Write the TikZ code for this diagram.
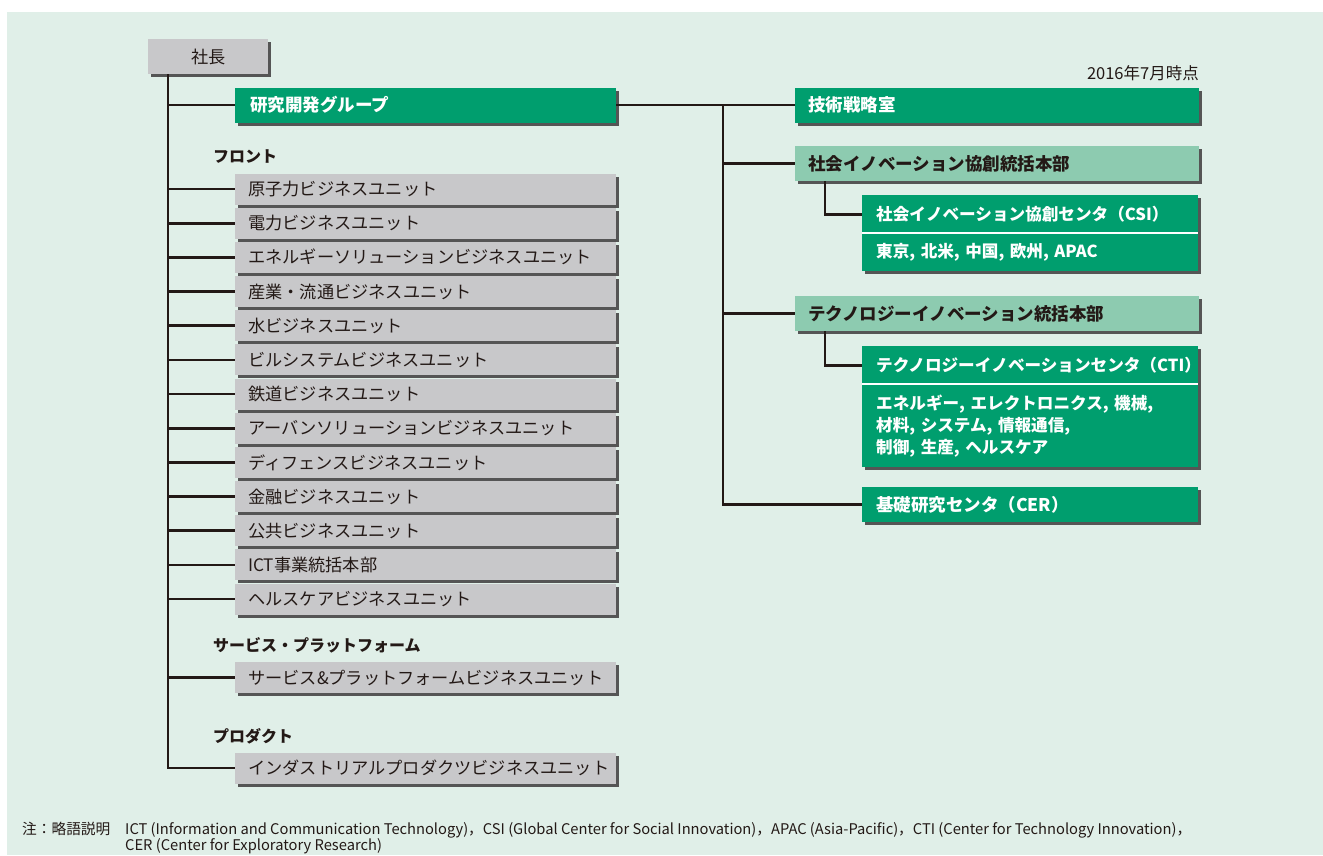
\documentclass[tikz,border=0pt]{standalone}
\usepackage{fontspec}
\setmainfont{Noto Sans CJK JP}
\usetikzlibrary{shadows}
\definecolor{bg}{RGB}{224,239,232}
\definecolor{dgreen}{RGB}{0,158,110}
\definecolor{lgreen}{RGB}{141,203,176}
\definecolor{ugrey}{RGB}{200,200,202}
\definecolor{ink}{RGB}{35,25,22}
\definecolor{shadowgrey}{RGB}{85,85,85}
\begin{document}
\begin{tikzpicture}[x=1pt,y=-1pt,
  shd/.style={drop shadow={shadow xshift=3pt,shadow yshift=-3pt,fill=shadowgrey,opacity=1}},
  unitbox/.style={fill=ugrey,shd,anchor=west,minimum height=31pt,text width=355pt,inner xsep=13pt,inner ysep=0pt,align=left,font=\fontsize{17.2}{20}\selectfont,text=ink},
  gbox/.style={fill=dgreen,shd,anchor=west,minimum height=35pt,inner ysep=0pt,align=left,font=\fontsize{17.5}{21}\selectfont\bfseries,text=white},
  lbox/.style={gbox,fill=lgreen,text=ink},
  plain/.style={inner sep=0pt,anchor=north west,align=left,text=white,font=\fontsize{16.6}{22}\selectfont\bfseries,text width=308pt,inner xsep=14pt},
  heading/.style={anchor=west,inner sep=0pt,font=\fontsize{16}{19}\selectfont\bfseries,text=ink},
  conn/.style={draw=ink,line width=2.6pt}
]
\useasboundingbox (0,0) rectangle (1323,855);
\fill[white] (0,0) rectangle (1323,855);
\fill[bg] (7,12) rectangle (1323,855);
\coordinate (trunk) at (168,74);
\coordinate (rtrunk) at (723,105);
\coordinate (sub) at (825,0);

% president
\node[fill=ugrey,shd,anchor=north west,minimum width=120pt,minimum height=35pt,inner sep=0pt,font=\fontsize{17.2}{20}\selectfont,text=ink] (pres) at (148,39) {社長};

% R&D group
\node[gbox,text width=351pt,inner xsep=15pt] (rd) at (235,105) {研究開発グループ};

% headings
\node[heading] (hfront) at (213,157) {フロント};
\node[heading] (hserv) at (213,645) {サービス・プラットフォーム};
\node[heading] (hprod) at (213,736) {プロダクト};

% units
\node[unitbox] (u1) at (235,189.0) {原子力ビジネスユニット};
\node[unitbox] (u2) at (235,223.2) {電力ビジネスユニット};
\node[unitbox] (u3) at (235,257.3) {エネルギーソリューションビジネスユニット};
\node[unitbox] (u4) at (235,291.5) {産業・流通ビジネスユニット};
\node[unitbox] (u5) at (235,325.7) {水ビジネスユニット};
\node[unitbox] (u6) at (235,359.9) {ビルシステムビジネスユニット};
\node[unitbox] (u7) at (235,394.0) {鉄道ビジネスユニット};
\node[unitbox] (u8) at (235,428.2) {アーバンソリューションビジネスユニット};
\node[unitbox] (u9) at (235,462.4) {ディフェンスビジネスユニット};
\node[unitbox] (u10) at (235,496.5) {金融ビジネスユニット};
\node[unitbox] (u11) at (235,530.7) {公共ビジネスユニット};
\node[unitbox] (u12) at (235,564.9) {ICT事業統括本部};
\node[unitbox] (u13) at (235,599.0) {ヘルスケアビジネスユニット};
\node[unitbox] (svc) at (235,677.5) {サービス\&プラットフォームビジネスユニット};
\node[unitbox] (ind) at (235,768.0) {インダストリアルプロダクツビジネスユニット};

% right side
\node[anchor=east,inner sep=0pt,font=\fontsize{16.5}{19}\selectfont,text=ink] (date) at (1199,73) {2016年7月時点};
\node[gbox,text width=378pt,inner xsep=13pt] (tech) at (795,105) {技術戦略室};
\node[lbox,text width=378pt,inner xsep=13pt] (shakai) at (795,163.5) {社会イノベーション協創統括本部};
\node[fill=dgreen,shd,anchor=north west,minimum width=336pt,minimum height=76pt,inner sep=0pt] (csi) at (862,195) {};
\node[plain,minimum height=38pt] (csit) at (862,195) {社会イノベーション協創センタ（CSI）};
\node[plain,minimum height=38pt] (csib) at (862,233) {東京, 北米, 中国, 欧州, APAC};
\draw[white,line width=2pt] (csit.south west) -- (csit.south east);

\node[lbox,text width=378pt,inner xsep=13pt] (techhq) at (795,313.5) {テクノロジーイノベーション統括本部};
\node[fill=dgreen,shd,anchor=north west,minimum width=336pt,minimum height=121pt,inner sep=0pt] (cti) at (862,346) {};
\node[plain,minimum height=38pt] (ctit) at (862,346) {テクノロジーイノベーションセンタ（CTI）};
\node[plain,minimum height=83pt] (ctib) at (862,384) {エネルギー, エレクトロニクス, 機械,\\材料, システム, 情報通信,\\制御, 生産, ヘルスケア};
\draw[white,line width=2pt] (ctit.south west) -- (ctit.south east);

\node[gbox,text width=308pt,inner xsep=14pt] (cer) at (862,504.5) {基礎研究センタ（CER）};

% connectors
\draw[conn] (pres.south -| trunk) |- (ind.west);
\foreach \n in {rd,u1,u2,u3,u4,u5,u6,u7,u8,u9,u10,u11,u12,u13,svc}
  \draw[conn] (\n.west -| trunk) -- (\n.west);
\draw[conn] (rd.east) -- (tech.west);
\draw[conn] (rtrunk) |- (cer.west);
\draw[conn] (shakai.west -| rtrunk) -- (shakai.west);
\draw[conn] (techhq.west -| rtrunk) -- (techhq.west);
\draw[conn] (shakai.south -| sub) |- (csit.west);
\draw[conn] (techhq.south -| sub) |- (ctit.west);

% footnote
\node[anchor=west,inner sep=0pt,font=\fontsize{14.7}{16}\selectfont,text=ink] (fnlabel) at (22,829) {注：略語説明};
\node[anchor=north west,inner sep=0pt,align=left,font=\fontsize{14.7}{16}\selectfont,text=ink] (fntext) at (125,822.5) {ICT (Information and Communication Technology)，CSI (Global Center for Social Innovation)，APAC (Asia-Pacific)，CTI (Center for Technology Innovation)，\\CER (Center for Exploratory Research)};
\end{tikzpicture}
\end{document}
